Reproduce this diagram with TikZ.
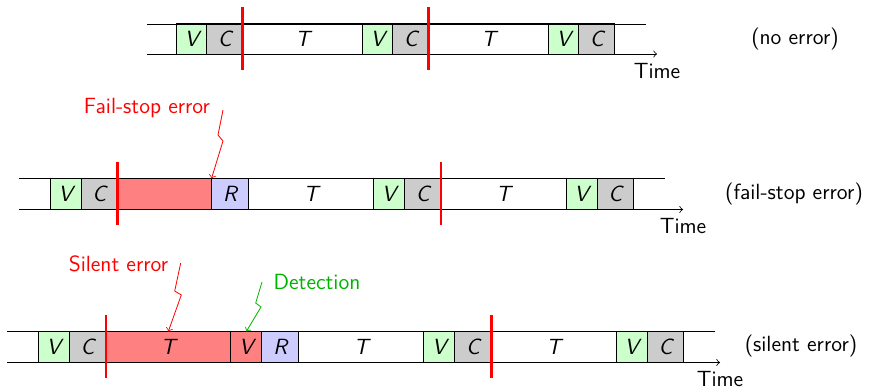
\documentclass[tikz,border=0pt]{standalone}
\usetikzlibrary{positioning,calc}

\begin{document}
\begin{tikzpicture}[x=0.5pt,y=-0.5pt,
    font=\sffamily\fontsize{11}{13}\selectfont,
    slot/.style={draw, inner sep=0pt, outer sep=0pt, minimum height=15.5pt,
                 font=\sffamily\itshape\fontsize{11}{13}\selectfont},
    vslot/.style={slot, fill=green!20, minimum width=15.5pt},
    cslot/.style={slot, fill=black!20, minimum width=18.25pt},
    tslot/.style={slot, minimum width=62.5pt},
    rslot/.style={slot, fill=blue!20, minimum width=18.5pt},
    lost/.style={fill=red!50},
    ckpt/.style={red, line width=1.3pt},
    bolt/.style={->}
]

    \useasboundingbox (0,0) rectangle (869,389);

    % Row 1: no error
    \node[vslot, anchor=west, minimum width=15pt] (v11) at (176.7,39) {V};
    \node[cslot, right=0pt of v11, minimum width=18pt] (c11) {C};
    \node[tslot, right=0pt of c11, minimum width=60pt] (t11) {T};
    \node[vslot, right=0pt of t11, minimum width=15pt] (v12) {V};
    \node[cslot, right=0pt of v12, minimum width=18pt] (c12) {C};
    \node[tslot, right=0pt of c12, minimum width=60pt] (t12) {T};
    \node[vslot, right=0pt of t12, minimum width=15pt] (v13) {V};
    \node[cslot, right=0pt of v13, minimum width=18pt] (c13) {C};

    \coordinate (s1) at (147,24);
    \coordinate (e1) at (646,24);
    \coordinate (tip1) at (657,54);
    \draw (s1) -- (e1);
    \draw[->] (s1 |- tip1) -- (tip1);
    \node[below=1pt] (time1) at (tip1) {Time};

    \draw[ckpt] ([yshift=8pt]c11.north east) -- ([yshift=-8pt]c11.south east);
    \draw[ckpt] ([yshift=8pt]c12.north east) -- ([yshift=-8pt]c12.south east);

    \node (lbl1) at (795,39) {(no error)};

    % Row 2: fail-stop error
    \node[vslot, anchor=west] (v21) at (50,194) {V};
    \node[cslot, right=0pt of v21] (c21) {C};
    \node[slot, lost, right=0pt of c21, minimum width=47pt] (f21) {};
    \node[rslot, right=0pt of f21] (r21) {R};
    \node[tslot, right=0pt of r21] (t21) {T};
    \node[vslot, right=0pt of t21] (v22) {V};
    \node[cslot, right=0pt of v22] (c22) {C};
    \node[tslot, right=0pt of c22] (t22) {T};
    \node[vslot, right=0pt of t22] (v23) {V};
    \node[cslot, right=0pt of v23] (c23) {C};

    \coordinate (s2) at (19,178.5);
    \coordinate (e2) at (665,178.5);
    \coordinate (tip2) at (683,209.5);
    \draw (s2) -- (e2);
    \draw[->] (s2 |- tip2) -- (tip2);
    \node[below=1pt] (time2) at (tip2) {Time};

    \draw[ckpt] ([yshift=8pt]c21.north east) -- ([yshift=-8pt]c21.south east);
    \draw[ckpt] ([yshift=8pt]c22.north east) -- ([yshift=-8pt]c22.south east);

    \node (lbl2) at (794,194) {(fail-stop error)};

    % the error strikes at the end of the lost work
    \node[red] (fserr) at (147,108) {Fail-stop error};
    \coordinate (b21) at (223,110);
    \draw[red, bolt] (b21) -- (218,135) -- (223,141) -- (f21.north east);

    % Row 3: silent error
    \node[vslot, anchor=west] (v31) at (38.3,347) {V};
    \node[cslot, right=0pt of v31] (c31) {C};
    \node[tslot, lost, right=0pt of c31] (t31) {T};
    \node[vslot, lost, right=0pt of t31] (v32) {V};
    \node[rslot, right=0pt of v32] (r31) {R};
    \node[tslot, right=0pt of r31] (t32) {T};
    \node[vslot, right=0pt of t32] (v33) {V};
    \node[cslot, right=0pt of v33] (c32) {C};
    \node[tslot, right=0pt of c32] (t33) {T};
    \node[vslot, right=0pt of t33] (v34) {V};
    \node[cslot, right=0pt of v34] (c33) {C};

    \coordinate (s3) at (7.3,331.5);
    \coordinate (e3) at (715,331.5);
    \coordinate (tip3) at (720,362.5);
    \draw (s3) -- (e3);
    \draw[->] (s3 |- tip3) -- (tip3);
    \node[below=1pt] (time3) at (tip3) {Time};

    \draw[ckpt] ([yshift=8pt]c31.north east) -- ([yshift=-8pt]c31.south east);
    \draw[ckpt] ([yshift=8pt]c32.north east) -- ([yshift=-8pt]c32.south east);

    \node (lbl3) at (801,346) {(silent error)};

    % silent error inside T, caught by the next verification
    \node[red] (slerr) at (118.5,264) {Silent error};
    \coordinate (b31) at (180.7,263);
    \draw[red, bolt] (b31) -- (174.7,291) -- (181.3,295) -- (t31.north);

    \node[green!70!black] (detect) at (317,282) {Detection};
    \coordinate (b32) at (262,282);
    \draw[green!70!black, bolt] (b32) -- (255.7,303) -- (261,307) -- (v32.north);

\end{tikzpicture}
\end{document}
